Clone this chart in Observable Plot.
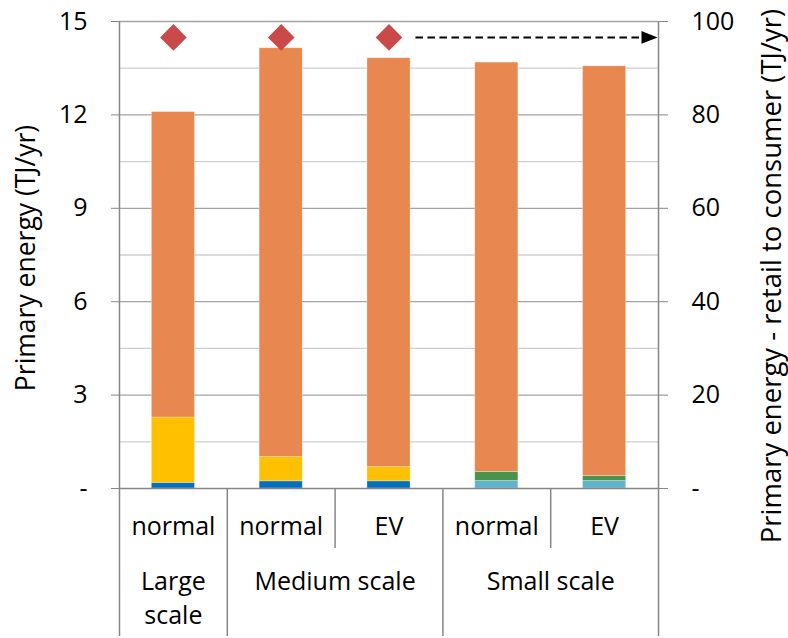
<!DOCTYPE html>
<html><head><meta charset="utf-8">
<script src="https://cdn.jsdelivr.net/npm/d3@7"></script>
<script src="https://cdn.jsdelivr.net/npm/@observablehq/plot@0.6"></script>
<style>html,body{margin:0;padding:0;background:#fff}</style>
</head><body><div id="chart"></div>
<script>
// ---- data ----
const scenarios = ["normal", "normal", "EV", "normal", "EV"];
const scaleGroups = ["Large\nscale", "Medium scale", "Medium scale", "Small scale", "Small scale"];
const seriesNames = ["Blue", "Light blue", "Green", "Yellow", "Orange"];
const blue = [0.18, 0.23, 0.23, 0, 0];
const lightBlue = [0, 0, 0, 0.24, 0.24];
const green = [0, 0, 0, 0.29, 0.16];
const yellow = [2.10, 0.78, 0.46, 0, 0];
const orange = [9.81, 13.13, 13.13, 13.15, 13.16];
const retailToConsumer = [96.6, 96.6, 96.6, null, null]; // right axis units (TJ/yr)
const leftTicks = [0, 3, 6, 9, 12, 15];
const leftTickLabels = ["-", "3", "6", "9", "12", "15"];
const rightTickLabels = ["-", "20", "40", "60", "80", "100"];
const minorGrid = [1.5, 4.5, 7.5, 10.5, 13.5];
const leftMax = 15, rightMax = 100;
const leftTitle = "Primary energy (TJ/yr)";
const rightTitle = "Primary energy - retail to consumer (TJ/yr)";

// ---- styles ----
const colors = ["#0070c0", "#5db4cc", "#4a934a", "#ffc000", "#e8874f"];
const W = 788, H = 638, mT = 21, mB = 150, mL = 119, mR = 130;
const frameH = H - mT - mB;
const FONT = 25;

// ---- build stacked rects ----
const seriesValues = [blue, lightBlue, green, yellow, orange];
const rects = [];
scenarios.forEach((s, i) => {
  let acc = 0;
  seriesValues.forEach((vals, k) => {
    const v = vals[i];
    if (v > 0) rects.push({i, series: seriesNames[k], color: colors[k], y1: acc, y2: acc + v});
    acc += v;
  });
});

const diamonds = retailToConsumer.map((v, i) => ({i, v})).filter(d => d.v != null);
const lastDiamond = diamonds[diamonds.length - 1];
const arrowY = lastDiamond.v * leftMax / rightMax;

const groups = Array.from(d3.group(scenarios.map((s, i) => ({i, g: scaleGroups[i]})), d => d.g),
  ([g, arr]) => ({g, x: d3.mean(arr, d => d.i + 0.5)}));

const triangleRight = {
  draw(ctx, size) {
    const r = Math.sqrt(size / Math.PI);
    ctx.moveTo(r, 0); ctx.lineTo(-r, -0.8 * r); ctx.lineTo(-r, 0.8 * r); ctx.closePath();
  }
};

const axisGray = "#868686";

const chart = Plot.plot({
  width: W, height: H,
  marginTop: mT, marginBottom: mB, marginLeft: mL, marginRight: mR,
  style: {fontFamily: "'Open Sans', Lato, sans-serif", fontSize: FONT + "px", color: "#000", background: "#fff"},
  x: {domain: [0, scenarios.length], axis: null},
  y: {domain: [0, leftMax], axis: null},
  marks: [
    Plot.ruleY(minorGrid, {stroke: "#cfcfcf", strokeWidth: 1.3}),
    Plot.ruleY(leftTicks.slice(1), {stroke: "#a3a3a3", strokeWidth: 1.3}),
    Plot.rect(rects, {x1: d => d.i + 0.3, x2: d => d.i + 0.7, y1: "y1", y2: "y2", fill: d => d.color,
      stroke: "#fff", strokeOpacity: 0.35, strokeWidth: 0.8}),
    Plot.ruleY([0], {stroke: axisGray, strokeWidth: 1.5}),
    // left & right axis lines, extending down through the category area
    Plot.ruleX([0, scenarios.length], {stroke: axisGray, strokeWidth: 1.5, insetBottom: -(mB - 2)}),
    // group dividers
    Plot.ruleX([1, 3], {stroke: axisGray, strokeWidth: 1.5, insetTop: frameH, insetBottom: -(mB - 2)}),
    // scenario dividers within groups
    Plot.ruleX([2, 4], {stroke: axisGray, strokeWidth: 1.5, insetTop: frameH, insetBottom: -60}),
    Plot.axisY({anchor: "left", ticks: leftTicks, tickSize: 8, tickPadding: 24, label: null,
      stroke: axisGray, fill: "#000", fontSize: FONT,
      tickFormat: d => leftTickLabels[leftTicks.indexOf(d)]}),
    Plot.axisY({anchor: "right", ticks: leftTicks, tickSize: 9, tickPadding: 24, label: null,
      stroke: axisGray, fill: "#000", fontSize: FONT,
      tickFormat: d => rightTickLabels[leftTicks.indexOf(d)]}),
    // retail-to-consumer diamonds
    Plot.dot(diamonds, {x: d => d.i + 0.5, y: d => d.v * leftMax / rightMax, symbol: "diamond2",
      r: 12, fill: "#c94a48", stroke: "none"}),
    // dashed off-scale arrow
    Plot.ruleY([arrowY], {x1: lastDiamond.i + 0.75, x2: scenarios.length, stroke: "#000",
      strokeWidth: 2, strokeDasharray: "7.5,4.5", insetRight: 10}),
    Plot.dot([arrowY], {x: scenarios.length, y: d => d, symbol: triangleRight, r: 8, dx: -9,
      fill: "#000", stroke: "none"}),
    // category labels
    Plot.text(scenarios, {x: (d, i) => i + 0.5, y: 0, text: d => d, dy: 38, fontSize: FONT}),
    Plot.text(groups, {x: "x", y: 0, text: "g", dy: 77, lineAnchor: "top", lineHeight: 1.36, fontSize: FONT}),
    // axis titles
    Plot.text([leftTitle], {frameAnchor: "left", textAnchor: "middle", rotate: -90, dx: -93, dy: 3, fontSize: 26.5}),
    Plot.text([rightTitle], {frameAnchor: "right", textAnchor: "middle", rotate: -90, dx: 114, dy: 21, fontSize: 27.5})
  ]
});
document.getElementById("chart").appendChild(chart);
</script>
</body></html>
